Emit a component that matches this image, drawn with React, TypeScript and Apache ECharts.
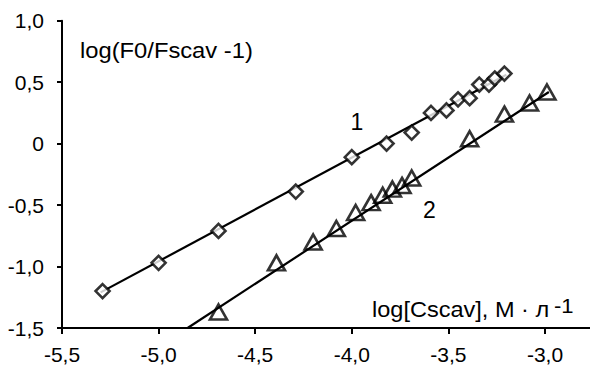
import React, { useEffect, useRef } from "react";
import * as echarts from "echarts";

const xTicks = [-5.5, -5.0, -4.5, -4.0, -3.5, -3.0];
const yTicks = [-1.5, -1.0, -0.5, 0, 0.5, 1.0];

const x1 = [-5.29, -5.0, -4.69, -4.29, -4.0, -3.82, -3.69, -3.59, -3.51, -3.45, -3.39, -3.34, -3.29, -3.26, -3.21];
const y1 = [-1.2, -0.97, -0.71, -0.39, -0.11, 0.0, 0.09, 0.25, 0.27, 0.36, 0.37, 0.48, 0.48, 0.53, 0.57];

const x2 = [-4.69, -4.39, -4.2, -4.08, -3.98, -3.9, -3.84, -3.79, -3.74, -3.69, -3.39, -3.21, -3.08, -2.99];
const y2 = [-1.37, -0.97, -0.8, -0.69, -0.56, -0.48, -0.42, -0.37, -0.34, -0.28, 0.04, 0.24, 0.33, 0.42];

const fit1X = [-5.3, -3.2];
const fit1Y = [-1.21, 0.56];
const fit2X = [-4.85, -2.98];
const fit2Y = [-1.5, 0.42];

const FONT = "'Liberation Sans', Arial, sans-serif";

const fmt = (v: number) => (v === 0 ? "0" : v.toFixed(1).replace(".", ","));

export default function App() {
  const ref = useRef<HTMLDivElement>(null);
  useEffect(() => {
    if (!ref.current) return;
    const chart = echarts.init(ref.current, null, { renderer: "svg" });
    const zip = (xs: number[], ys: number[]) => xs.map((x, i) => [x, ys[i]]);
    chart.setOption({
      animation: false,
      backgroundColor: "#fff",
      grid: { left: 62, right: 0, top: 20.7, bottom: 37, containLabel: false },
      xAxis: {
        type: "value",
        min: -5.5,
        max: -2.767,
        interval: 0.5,
        splitLine: { show: false },
        axisLine: { onZero: false, lineStyle: { color: "#000", width: 2 } },
        axisTick: { show: true, length: 6, lineStyle: { color: "#000", width: 2 }, customValues: xTicks },
        axisLabel: {
          color: "#000",
          fontSize: 21,
          fontFamily: FONT,
          margin: 16,
          customValues: xTicks,
          formatter: (v: number) => fmt(v),
        },
      },
      yAxis: {
        type: "value",
        min: -1.5,
        max: 1.0,
        interval: 0.5,
        splitLine: { show: false },
        axisLine: { onZero: false, lineStyle: { color: "#000", width: 2 } },
        axisTick: { show: true, length: 5, lineStyle: { color: "#000", width: 2 }, customValues: yTicks },
        axisLabel: {
          color: "#000",
          fontSize: 21,
          fontFamily: FONT,
          margin: 18,
          customValues: yTicks,
          formatter: (v: number) => fmt(v),
        },
      },
      series: [
        {
          type: "line",
          data: zip(fit1X, fit1Y),
          showSymbol: false,
          lineStyle: { color: "#000", width: 2.2 },
          z: 2,
        },
        {
          type: "line",
          data: zip(fit2X, fit2Y),
          showSymbol: false,
          lineStyle: { color: "#000", width: 2.2 },
          z: 2,
        },
        {
          type: "scatter",
          data: zip(x1, y1),
          symbol: "diamond",
          symbolSize: 14,
          itemStyle: { color: "#fff", borderColor: "#000", borderWidth: 2.6 },
          z: 3,
        },
        {
          type: "scatter",
          data: zip(x2, y2),
          symbol: "triangle",
          symbolSize: [17, 15],
          itemStyle: { color: "rgba(255,255,255,0)", borderColor: "#000", borderWidth: 2.6 },
          z: 3,
        },
      ],
      graphic: [
        {
          type: "text",
          x: 80,
          y: 50.5,
          scaleX: 1.08,
          style: { text: "log(F0/Fscav -1)", fontSize: 22, fontFamily: FONT, fill: "#000", verticalAlign: "middle", align: "left" },
        },
        {
          type: "text",
          x: 372,
          y: 309,
          scaleX: 1.07,
          style: { text: "log[Cscav], М · л", fontSize: 22, fontFamily: FONT, fill: "#000", verticalAlign: "middle", align: "left" },
        },
        {
          type: "text",
          x: 554,
          y: 306,
          scaleX: 1.05,
          style: { text: "-1", fontSize: 21, fontFamily: FONT, fill: "#000", verticalAlign: "middle", align: "left" },
        },
        {
          type: "text",
          x: 357,
          y: 122,
          style: { text: "1", fontSize: 23, fontFamily: FONT, fill: "#000", verticalAlign: "middle", align: "center" },
        },
        {
          type: "text",
          x: 429.5,
          y: 210,
          style: { text: "2", fontSize: 23, fontFamily: FONT, fill: "#000", verticalAlign: "middle", align: "center" },
        },
      ],
    });
    return () => chart.dispose();
  }, []);
  return <div ref={ref} style={{ position: "fixed", left: 0, top: 0, width: 590, height: 365 }} />;
}
